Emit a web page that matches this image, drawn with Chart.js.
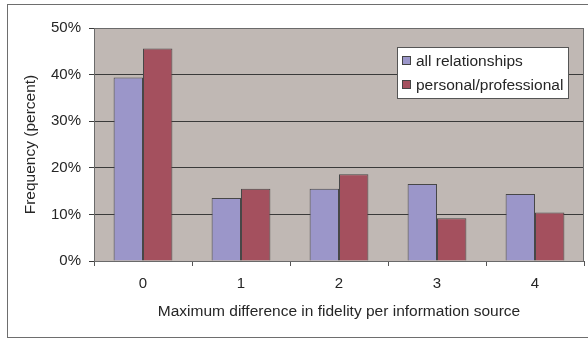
<!DOCTYPE html>
<html>
<head>
<meta charset="utf-8">
<script src="https://cdn.jsdelivr.net/npm/chart.js@4"></script>
<style>
  body { margin: 0; background: #fff; }
  #wrap { width: 588px; height: 339px; position: relative; }
</style>
</head>
<body>
<div id="wrap"><canvas id="chart"></canvas></div>
<script>
// Data
const categories = ['0', '1', '2', '3', '4'];
const allRelationships = [39.4, 13.5, 15.5, 16.5, 14.4];
const personalProfessional = [45.6, 15.5, 18.6, 9.2, 10.4];
const seriesNames = ['all relationships', 'personal/professional'];
const yTicks = [0, 10, 20, 30, 40, 50];

const FONT = 'Liberation Sans, Arial, sans-serif';
const TEXT = '#262626';

// Frame around the whole picture and the plot area
const framePlugin = {
  id: 'frame',
  beforeDraw(chart) {
    const ctx = chart.ctx;
    const a = chart.chartArea;
    ctx.save();
    ctx.strokeStyle = '#6e6e6e';
    ctx.lineWidth = 1;
    ctx.strokeRect(7.5, 4.5, 600, 333);
    ctx.fillStyle = '#c0b8b4';
    ctx.fillRect(a.left, a.top, a.right - a.left, a.bottom - a.top);
    ctx.restore();
  },
  afterDatasetsDraw(chart) {
    const ctx = chart.ctx;
    const a = chart.chartArea;
    ctx.save();
    ctx.strokeStyle = '#6a6a6a';
    ctx.lineWidth = 1;
    ctx.strokeRect(a.left + 0.5, a.top + 0.5, a.right - a.left - 1, a.bottom - a.top);
    ctx.restore();
  }
};

// Excel-style legend box inside the plot area
const boxLegend = {
  id: 'boxLegend',
  afterDraw(chart) {
    const ctx = chart.ctx;
    const a = chart.chartArea;
    const w = 171, h = 51;
    const x = a.right - 16 - w, y = a.top + 19;
    ctx.save();
    ctx.fillStyle = '#fff';
    ctx.fillRect(x, y, w, h);
    ctx.strokeStyle = '#555';
    ctx.lineWidth = 1;
    ctx.strokeRect(x + 0.5, y + 0.5, w, h);
    ctx.font = '15.5px ' + FONT;
    ctx.textBaseline = 'middle';
    chart.data.datasets.forEach((ds, i) => {
      const cy = y + 14 + i * 24;
      ctx.fillStyle = ds.backgroundColor;
      ctx.fillRect(x + 6, cy - 4, 7, 7);
      ctx.strokeStyle = '#444';
      ctx.strokeRect(x + 5.5, cy - 4.5, 8, 8);
      ctx.fillStyle = TEXT;
      ctx.fillText(ds.label, x + 19, cy + 1);
    });
    ctx.restore();
  }
};

new Chart(document.getElementById('chart'), {
  type: 'bar',
  data: {
    labels: categories,
    datasets: [
      {
        label: seriesNames[0],
        data: allRelationships,
        backgroundColor: '#9b96c9',
        borderColor: '#474747',
        borderWidth: 1,
        categoryPercentage: 0.6,
        barPercentage: 1.0
      },
      {
        label: seriesNames[1],
        data: personalProfessional,
        backgroundColor: '#a4505e',
        borderColor: '#474747',
        borderWidth: 1,
        categoryPercentage: 0.6,
        barPercentage: 1.0
      }
    ]
  },
  options: {
    responsive: true,
    maintainAspectRatio: false,
    animation: false,
    layout: { padding: { left: 0, top: 28, right: 4, bottom: 0 } },
    plugins: {
      legend: { display: false },
      tooltip: { enabled: false }
    },
    scales: {
      x: {
        grid: { drawOnChartArea: false, offset: true, color: '#555', tickLength: 5 },
        border: { display: false },
        ticks: { color: TEXT, font: { family: FONT, size: 15 }, padding: 9 },
        title: {
          display: true,
          text: 'Maximum difference in fidelity per information source',
          color: TEXT,
          font: { family: FONT, size: 15.5 },
          padding: { top: 4, bottom: 18 }
        },
        afterFit(scale) { scale.height = 78; }
      },
      y: {
        min: 0,
        max: 50,
        afterBuildTicks(scale) { scale.ticks = yTicks.map(v => ({ value: v })); },
        grid: { color: '#3a3a3a', tickLength: 5 },
        border: { display: false },
        ticks: {
          color: TEXT,
          font: { family: FONT, size: 15 },
          padding: 8,
          callback: v => v + '%'
        },
        title: {
          display: true,
          text: 'Frequency (percent)',
          color: TEXT,
          font: { family: FONT, size: 15.5 },
          padding: { top: 21, bottom: 4 }
        },
        afterFit(scale) { scale.width = 94; }
      }
    }
  },
  plugins: [framePlugin, boxLegend]
});
</script>
</body>
</html>
